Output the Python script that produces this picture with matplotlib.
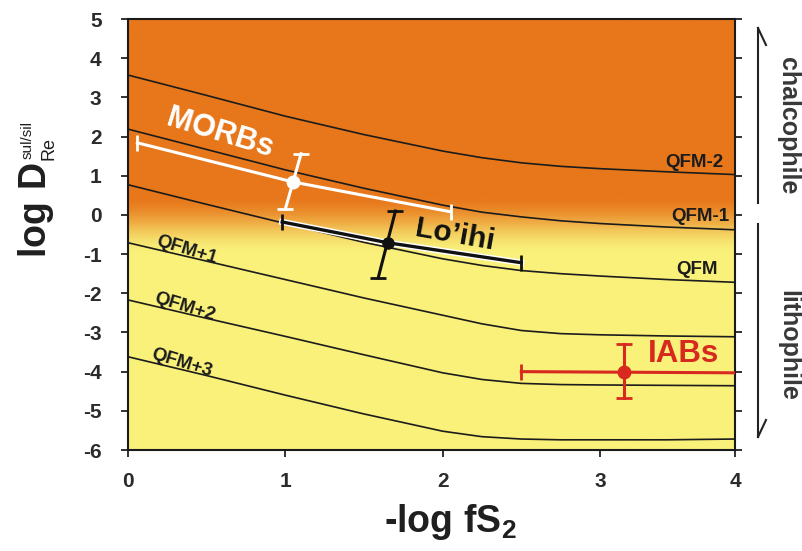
import numpy as np
import matplotlib.pyplot as plt
import matplotlib.patheffects as pe
from matplotlib.lines import Line2D

plt.rcParams['font.family'] = ['Liberation Sans', 'DejaVu Sans']
plt.rcParams['mathtext.fontset'] = 'custom'
plt.rcParams['mathtext.rm'] = 'Liberation Sans'
plt.rcParams['mathtext.bf'] = 'Liberation Sans:bold'

# QFM buffer curves: log D(Re) vs -log fS2
curve_x = [0, 0.5, 1, 1.5, 2, 2.25, 2.5, 2.75, 3, 3.5, 4]
qfm_m2 = [3.57, 3.05, 2.52, 2.05, 1.63, 1.46, 1.33, 1.24, 1.18, 1.10, 1.03]
qfm_m1 = [2.19, 1.67, 1.15, 0.68, 0.25, 0.07, -0.05, -0.15, -0.22, -0.31, -0.38]
qfm_0 = [0.77, 0.27, -0.22, -0.70, -1.12, -1.29, -1.42, -1.50, -1.56, -1.65, -1.72]
qfm_p1 = [-0.71, -1.18, -1.65, -2.12, -2.56, -2.78, -2.95, -3.03, -3.06, -3.09, -3.11]
qfm_p2 = [-2.17, -2.64, -3.10, -3.57, -4.03, -4.20, -4.30, -4.33, -4.34, -4.35, -4.36]
qfm_p3 = [-3.62, -4.10, -4.60, -5.08, -5.52, -5.66, -5.72, -5.74, -5.74, -5.74, -5.72]
curves = [qfm_m2, qfm_m1, qfm_0, qfm_p1, qfm_p2, qfm_p3]

# sample groups: centre, ends of the fS2 arm, ends of the D arm
morb_c = (1.05, 0.84)
morb_h = ([0.06, 1.05, 2.05], [1.84, 0.84, 0.08])
morb_v = ([1.10, 1.00], [1.56, 0.15])

loihi_c = (1.65, -0.71)
loihi_h = ([0.98, 1.65, 2.50], [-0.18, -0.71, -1.22])
loihi_v = ([1.70, 1.59], [0.10, -1.61])

iab_c = (3.18, -4.0)
iab_h = ([2.50, 4.0], [-4.0, -4.03])
iab_v = ([3.18, 3.18], [-3.30, -4.67])

xticks = [0, 1, 2, 3, 4]
yticks = list(range(-6, 6))

orange = np.array([231, 119, 26]) / 255
yellow = np.array([249, 241, 122]) / 255


def fwd(x):
    x = np.asarray(x, dtype=float)
    return np.where(x <= 3, x, 3 + (x - 3) * 0.858)


def inv(x):
    x = np.asarray(x, dtype=float)
    return np.where(x <= 3, x, 3 + (x - 3) / 0.858)


fig = plt.figure(figsize=(8.03, 5.51), dpi=100)
ax = fig.add_axes([0.1594, 0.1833, 0.7559, 0.7822])
ax.set_xscale('function', functions=(fwd, inv))
ax.set_xlim(0, 4)
ax.set_ylim(-6, 5)

# orange (chalcophile) to yellow (lithophile) background
yy = np.linspace(5, -6, 400)
t = np.clip((0.5 - yy) / 1.5, 0, 1)
t = t * t * (3 - 2 * t)
grad = orange[None, :] * (1 - t[:, None]) + yellow[None, :] * t[:, None]
ax.imshow(grad[:, None, :], extent=[0, 1, 0, 1], transform=ax.transAxes,
          aspect='auto', zorder=0)

for c in curves:
    ax.plot(curve_x, c, color='#1c1c1c', lw=1.2, zorder=2)

qfm_kw = dict(fontsize=13.5, fontweight='bold', color='#1c1c1c', ha='center', va='center', zorder=3)
ax.text(3.70, 1.33, 'QFM-2', **qfm_kw)
ax.text(3.74, -0.03, 'QFM-1', **qfm_kw)
ax.text(3.72, -1.40, 'QFM', **qfm_kw)
for lx, ly, lab in [(0.375, -0.89, 'QFM+1'), (0.36, -2.35, 'QFM+2'), (0.34, -3.78, 'QFM+3')]:
    ax.text(lx, ly, lab, rotation=-17, **qfm_kw)

# MORBs
ax.plot(*morb_h, color='white', lw=2.2, zorder=4)
ax.plot(*morb_v, color='white', lw=2.2, zorder=4)
ax.plot([morb_h[0][0], morb_h[0][-1]], [morb_h[1][0], morb_h[1][-1]], ls='none',
        marker='|', ms=11, mew=2, color='white', zorder=4)
ax.plot(morb_v[0], morb_v[1], ls='none', marker='_', ms=12, mew=2, color='white', zorder=4)
ax.plot(*morb_c, 'o', ms=9, color='white', zorder=5)
ax.text(0.585, 2.07, 'MORBs', fontsize=22, fontweight='bold', color='white',
        ha='center', va='center', rotation=-17, zorder=5)

# Lo'ihi
ax.plot(*loihi_h, color='#111111', lw=2.4, zorder=4,
        path_effects=[pe.withStroke(linewidth=4.5, foreground='white')])
ax.plot(*loihi_v, color='#111111', lw=2.2, zorder=4)
ax.plot([loihi_h[0][0], loihi_h[0][-1]], [loihi_h[1][0], loihi_h[1][-1]], ls='none',
        marker='|', ms=11, mew=2, color='#111111', zorder=4)
ax.plot(loihi_v[0], loihi_v[1], ls='none', marker='_', ms=12, mew=2, color='#111111', zorder=4)
ax.plot(*loihi_c, 'o', ms=8, color='#111111', zorder=5)
ax.text(2.08, -0.52, 'Lo\u2019ihi', fontsize=21.5, fontweight='bold', color='#111111',
        ha='center', va='center', rotation=-10, zorder=5)

# IABs
red = '#d8291f'
ax.plot(*iab_h, color=red, lw=2.2, zorder=4)
ax.plot(*iab_v, color=red, lw=2.2, zorder=4)
ax.plot([iab_h[0][0]], [iab_h[1][0]], ls='none', marker='|', ms=11, mew=2, color=red, zorder=4)
ax.plot(iab_v[0], iab_v[1], ls='none', marker='_', ms=12, mew=2, color=red, zorder=4)
ax.plot(*iab_c, 'o', ms=9, color=red, zorder=5)
ax.text(3.62, -3.55, 'IABs', fontsize=22.5, fontweight='bold', color=red,
        ha='center', va='center', zorder=5)

ax.set_xticks(xticks)
ax.set_yticks(yticks)
ax.set_xticklabels([str(v) for v in xticks], fontsize=15, fontweight='bold', color='#2b2b2b')
ax.set_yticklabels([str(v) for v in yticks], fontsize=15, fontweight='bold', color='#2b2b2b')
ax.tick_params(direction='out', length=5, width=1.3, color='#222222', right=True)
ax.tick_params(axis='x', pad=11)
ax.tick_params(axis='y', pad=14)
for s in ax.spines.values():
    s.set_linewidth(1.5)
    s.set_color('#1a1a1a')

W, H = 803, 551
# y label: log D with sul/sil above and Re below
fig.text(36 / W, 1 - 210 / H, r'$\mathbf{log\ D}$', fontsize=27, color='#1f1f1f',
         rotation=90, ha='center', va='center')
fig.text(28 / W, 1 - 140 / H, 'sul/sil', fontsize=11, color='#1f1f1f',
         rotation=90, ha='center', va='center')
fig.text(49 / W, 1 - 149 / H, 'Re', fontsize=13, color='#1f1f1f',
         rotation=90, ha='center', va='center')
fig.text(450 / W, 1 - 522 / H, r'-log fS$_\mathbf{2}$', fontsize=27, fontweight='bold',
         color='#1f1f1f', ha='center', va='center')

# chalcophile / lithophile arrows beside the axis
def fl(x, y):
    return [v / W for v in x], [1 - v / H for v in y]

for xs, ys in [([758, 758], [28, 203]), ([766, 758], [45, 28]),
               ([758, 758], [224, 437]), ([766, 758], [420, 437])]:
    fx, fy = fl(xs, ys)
    fig.add_artist(Line2D(fx, fy, color='#222222', lw=1.5))

fig.text(788 / W, 1 - 126 / H, 'chalcophile', fontsize=18, fontweight='bold',
         color='#383838', rotation=-90, ha='center', va='center')
fig.text(788 / W, 1 - 345 / H, 'lithophile', fontsize=18, fontweight='bold',
         color='#383838', rotation=-90, ha='center', va='center')

fig.savefig('out.png', dpi=100)
